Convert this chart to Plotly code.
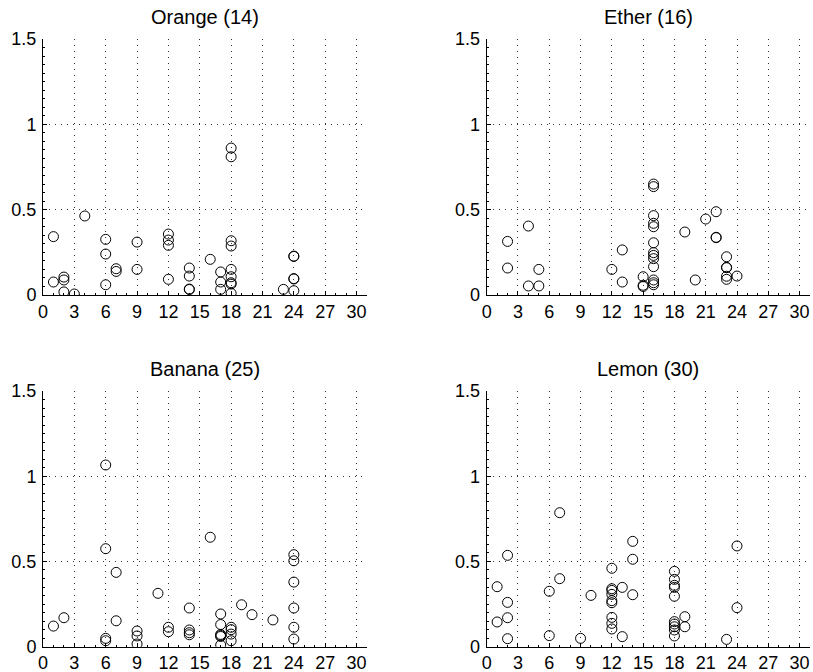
import plotly.graph_objects as go

titles = ["Orange (14)", "Ether (16)", "Banana (25)", "Lemon (30)"]

orange_x = [1, 1, 2, 2, 2, 3, 4, 6, 6, 6, 7, 7, 9, 9, 12, 12, 12, 12, 14, 14, 14, 14,
            16, 17, 17, 17, 18, 18, 18, 18, 18, 18, 18, 18, 18, 23, 24, 24, 24, 24, 24]
orange_y = [0.342, 0.076, 0.105, 0.088, 0.018, 0.006, 0.463, 0.326, 0.240, 0.060, 0.154, 0.138,
            0.310, 0.150, 0.357, 0.322, 0.291, 0.092, 0.158, 0.111, 0.035, 0.032,
            0.209, 0.135, 0.076, 0.033, 0.861, 0.810, 0.318, 0.287, 0.150, 0.107, 0.072, 0.064, 0.010,
            0.033, 0.228, 0.226, 0.096, 0.094, 0.025]

ether_x = [2, 2, 4, 4, 5, 5, 12, 13, 13, 15, 15, 15, 16, 16, 16, 16, 16, 16, 16, 16, 16, 16,
           16, 16, 16, 19, 20, 21, 22, 22, 22, 23, 23, 23, 23, 23, 24]
ether_y = [0.314, 0.158, 0.404, 0.053, 0.150, 0.053, 0.150, 0.264, 0.076, 0.107, 0.057, 0.050,
           0.650, 0.635, 0.465, 0.420, 0.400, 0.306, 0.248, 0.232, 0.213, 0.166, 0.088, 0.072, 0.060,
           0.369, 0.088, 0.445, 0.488, 0.338, 0.336, 0.224, 0.162, 0.160, 0.110, 0.092, 0.111]

banana_x = [1, 2, 6, 6, 6, 6, 7, 7, 9, 9, 9, 11, 12, 12, 14, 14, 14, 14, 16, 17, 17, 17, 17,
            17, 17, 18, 18, 18, 18, 19, 20, 22, 24, 24, 24, 24, 24, 24]
banana_y = [0.121, 0.170, 1.066, 0.575, 0.049, 0.035, 0.436, 0.152, 0.092, 0.063, 0.016, 0.313,
            0.114, 0.088, 0.227, 0.098, 0.082, 0.070, 0.642, 0.192, 0.130, 0.072, 0.066, 0.060,
            0.010, 0.114, 0.100, 0.074, 0.035, 0.246, 0.188, 0.157, 0.540, 0.504, 0.379, 0.227,
            0.114, 0.045]

lemon_x = [1, 1, 2, 2, 2, 2, 6, 6, 7, 7, 9, 10, 12, 12, 12, 12, 12, 12, 12, 12, 12, 13, 13,
           14, 14, 14, 18, 18, 18, 18, 18, 18, 18, 18, 18, 18, 19, 19, 23, 24, 24]
lemon_y = [0.352, 0.145, 0.536, 0.260, 0.170, 0.047, 0.325, 0.065, 0.786, 0.399, 0.049, 0.301,
           0.460, 0.340, 0.330, 0.307, 0.270, 0.258, 0.172, 0.137, 0.104, 0.348, 0.059,
           0.618, 0.513, 0.305, 0.442, 0.395, 0.360, 0.348, 0.296, 0.147, 0.133, 0.117, 0.098,
           0.063, 0.176, 0.117, 0.043, 0.591, 0.229]

xs = [orange_x, ether_x, banana_x, lemon_x]
ys = [orange_y, ether_y, banana_y, lemon_y]

x_ticks = list(range(0, 31, 3))
y_ticks = [0, 0.5, 1, 1.5]
y_ticklabels = ["0", "0.5", "1", "1.5"]

W, H = 813, 672
x_domains = [[43 / W, 367 / W], [486.7 / W, 810 / W]]
y_domains = [[1 - 295 / H, 1 - 39 / H], [1 - 646.7 / H, 1 - 391 / H]]

FONT = "Liberation Sans, Arial, Helvetica, sans-serif"

fig = go.Figure()
annotations = []
for i in range(4):
    r, c = divmod(i, 2)
    n = "" if i == 0 else str(i + 1)
    fig.add_trace(go.Scatter(
        x=xs[i], y=ys[i], mode="markers",
        marker=dict(symbol="circle-open", size=10, color="black", line=dict(width=1, color="black")),
        xaxis="x" + n, yaxis="y" + n, showlegend=False, hoverinfo="x+y"))
    common = dict(
        showline=True, linecolor="black", linewidth=1, mirror=False,
        showgrid=True, gridcolor="#333", gridwidth=1, griddash="1px,5px",
        zeroline=False, ticks="inside", ticklen=4, tickcolor="black",
        tickfont=dict(family=FONT, size=18, color="black"),
        automargin=False,
    )
    fig.layout["xaxis" + n] = dict(
        common, domain=x_domains[c], range=[0, 31], tickmode="array", tickvals=x_ticks,
        anchor="y" + n, ticklabelstandoff=0,
        minor=dict(dtick=1, ticks="inside", ticklen=2, tickcolor="black", showgrid=False))
    fig.layout["yaxis" + n] = dict(
        common, domain=y_domains[r], range=[0, 1.5], tickmode="array", tickvals=y_ticks,
        ticktext=y_ticklabels, anchor="x" + n, ticklabelstandoff=2,
        minor=dict(dtick=0.05, ticks="inside", ticklen=2, tickcolor="black", showgrid=False))
    annotations.append(dict(
        text=titles[i], xref="paper", yref="paper",
        x=sum(x_domains[c]) / 2, y=y_domains[r][1], yshift=9,
        xanchor="center", yanchor="bottom", showarrow=False,
        font=dict(family=FONT, size=20, color="black")))

fig.update_layout(
    width=W, height=H, margin=dict(l=0, r=0, t=0, b=0),
    paper_bgcolor="white", plot_bgcolor="white",
    annotations=annotations, font=dict(family=FONT, color="black"))

fig.write_html("out.html", config={"displayModeBar": False})

# remove the browser's default page margin so the figure sits at the window origin
with open("out.html", "r", encoding="utf-8") as f:
    html = f.read()
html = html.replace("<head>", "<head><style>html,body{margin:0;padding:0;overflow:hidden;}</style>", 1)
with open("out.html", "w", encoding="utf-8") as f:
    f.write(html)
